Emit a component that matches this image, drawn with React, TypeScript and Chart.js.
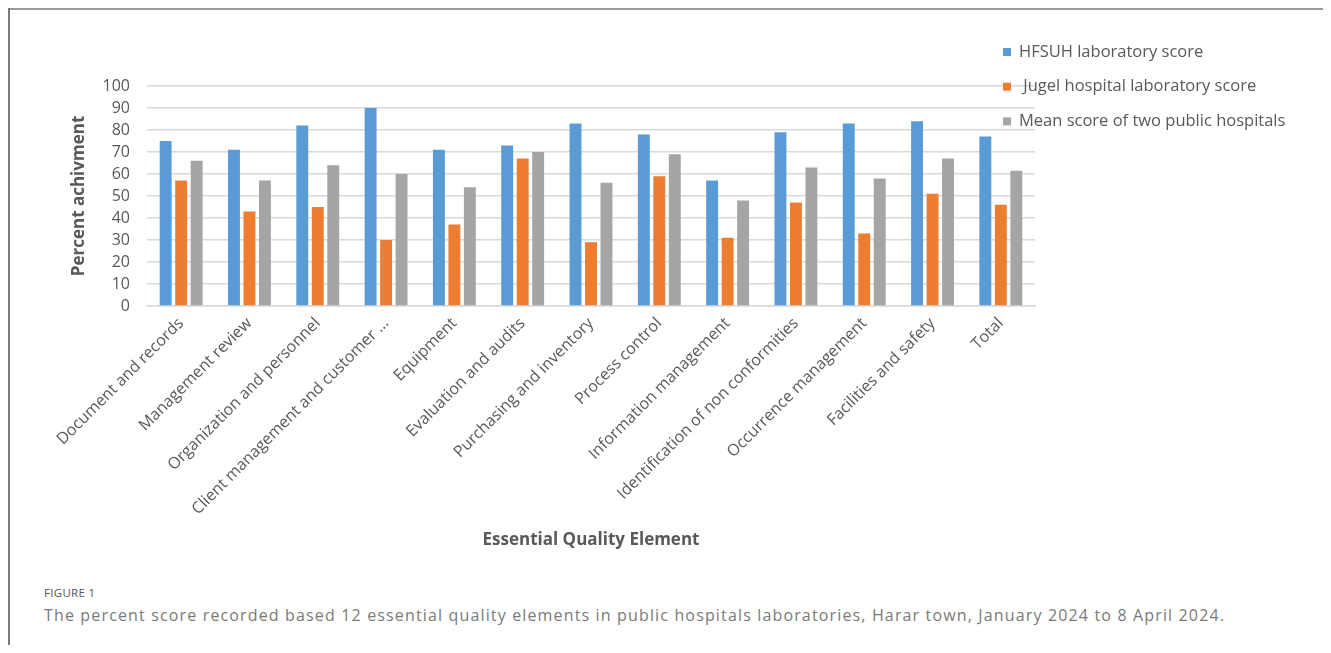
import React, { useEffect, useRef } from "react";
import { Chart, registerables } from "chart.js";

Chart.register(...registerables);

const categories = [
  "Document and records",
  "Management review",
  "Organization and personnel",
  "Client management and customer …",
  "Equipment",
  "Evaluation and audits",
  "Purchasing and inventory",
  "Process control",
  "Information management",
  "Identification of non conformities",
  "Occurrence management",
  "Facilities and safety",
  "Total",
];

const hfsuhScores = [75, 71, 82, 90, 71, 73, 83, 78, 57, 79, 83, 84, 77];
const jugelScores = [57, 43, 45, 30, 37, 67, 29, 59, 31, 47, 33, 51, 46];
const meanScores = [66, 57, 64, 60, 54, 70, 56, 69, 48, 63, 58, 67, 61.5];

const seriesLabels = [
  "HFSUH laboratory score",
  " Jugel hospital laboratory score",
  "Mean score of two public hospitals",
];
const seriesColors = ["#5B9BD5", "#ED7D31", "#A5A5A5"];

const yMin = 0;
const yMax = 100;
const yStep = 10;

const yTitle = "Percent achivment";
const xTitle = "Essential Quality Element";
const figureLabel = "FIGURE 1";
const captionText =
  "The percent score recorded based 12 essential quality elements in public hospitals laboratories, Harar town, January 2024 to 8 April 2024.";

const FONT = '"Open Sans", sans-serif';
const TEXT = "#595959";

const sideLegend = {
  id: "sideLegend",
  afterDraw(chart: any) {
    const { ctx, chartArea } = chart;
    ctx.save();
    ctx.font = `16.5px ${FONT}`;
    ctx.textBaseline = "middle";
    ctx.textAlign = "left";
    chart.data.datasets.forEach((ds: any, i: number) => {
      const y = chartArea.top - 34 + i * 34.7;
      const x = chartArea.right - 32;
      ctx.fillStyle = ds.backgroundColor;
      ctx.fillRect(x, y - 4, 8, 8);
      ctx.fillStyle = TEXT;
      ctx.fillText(ds.label, x + 16, y);
    });
    ctx.restore();
  },
};

export default function App() {
  const canvasRef = useRef<HTMLCanvasElement | null>(null);

  useEffect(() => {
    const canvas = canvasRef.current;
    if (!canvas) return;
    const values = [hfsuhScores, jugelScores, meanScores];
    const chart = new Chart(canvas, {
      type: "bar",
      data: {
        labels: categories,
        datasets: values.map((v, i) => ({
          label: seriesLabels[i],
          data: v,
          backgroundColor: seriesColors[i],
          borderWidth: 0,
          categoryPercentage: 0.68,
          barPercentage: 0.77,
        })),
      },
      options: {
        responsive: false,
        animation: false,
        devicePixelRatio: 1,
        layout: { padding: { left: 0, right: 296, top: 78, bottom: 0 } },
        plugins: {
          legend: { display: false },
          tooltip: { enabled: false },
        },
        scales: {
          x: {
            afterFit(scale: any) {
              scale.height = 254;
            },
            grid: { display: false, drawTicks: false },
            border: { display: true, color: "#D9D9D9", width: 1.5 },
            ticks: {
              autoSkip: false,
              maxRotation: 45,
              minRotation: 45,
              padding: 8,
              color: TEXT,
              font: { family: FONT, size: 16 },
            },
            title: {
              display: true,
              text: xTitle,
              color: TEXT,
              font: { family: FONT, size: 17, weight: "bold" },
              padding: { top: 0, bottom: 10 },
            },
          },
          y: {
            min: yMin,
            max: yMax,
            afterFit(scale: any) {
              scale.width = 139;
            },
            grid: { color: "#D9D9D9", lineWidth: 1.5, drawTicks: false },
            border: { display: false },
            ticks: {
              stepSize: yStep,
              autoSkip: false,
              padding: 17,
              color: TEXT,
              font: { family: FONT, size: 16, lineHeight: 1 },
            },
            title: {
              display: true,
              text: yTitle,
              color: TEXT,
              font: { family: FONT, size: 17, weight: "bold" },
              padding: { top: 61, bottom: 0 },
            },
          },
        },
      },
      plugins: [sideLegend],
    });
    return () => chart.destroy();
  }, []);

  return (
    <div style={{ position: "relative", width: 1323, height: 637, overflow: "hidden" }}>
      <div style={{ position: "absolute", left: 0, top: 0, width: 1323, height: 2, background: "#9a9a9a" }} />
      <div style={{ position: "absolute", left: 0, top: 0, width: 2, height: 637, background: "#7a7a7a" }} />
      <canvas
        ref={canvasRef}
        width={1323}
        height={552}
        style={{ position: "absolute", left: 0, top: 0, width: 1323, height: 552 }}
      />
      <div
        style={{
          position: "absolute",
          left: 36,
          top: 577,
          fontFamily: FONT,
          fontSize: 11.5,
          color: "#555",
          letterSpacing: 0.3,
          lineHeight: "16px",
        }}
      >
        {figureLabel}
      </div>
      <div
        style={{
          position: "absolute",
          left: 36,
          top: 597,
          fontFamily: FONT,
          fontSize: 16,
          color: "#7a7a7a",
          letterSpacing: 1.15,
          lineHeight: "20px",
          whiteSpace: "nowrap",
        }}
      >
        {captionText}
      </div>
    </div>
  );
}
